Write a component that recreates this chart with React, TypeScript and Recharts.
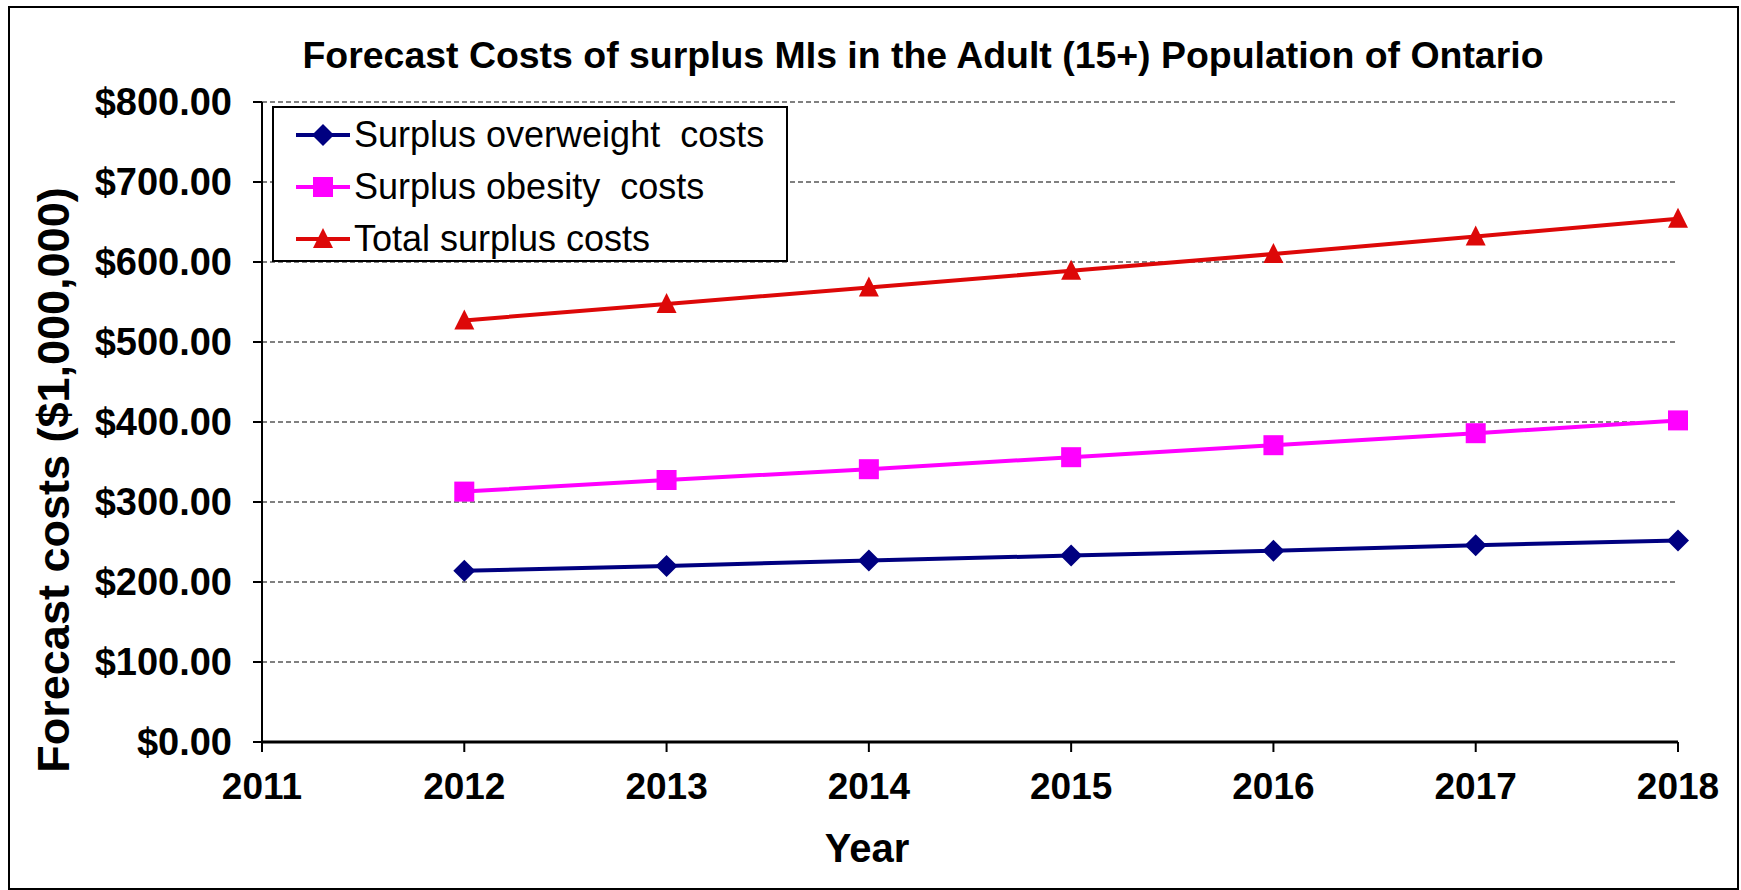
import { LineChart, Line, XAxis, YAxis, CartesianGrid, Customized } from "recharts";

const years = [2012, 2013, 2014, 2015, 2016, 2017, 2018];
const overweightCosts = [214, 220, 227, 233, 239, 246, 252];
const obesityCosts = [313, 327.5, 341, 356, 371, 386, 402];
const totalCosts = [527, 547.5, 568, 589, 610, 632, 654];

const xTicks = [2011, 2012, 2013, 2014, 2015, 2016, 2017, 2018];
const yTicks = [0, 100, 200, 300, 400, 500, 600, 700, 800];

const TITLE = "Forecast Costs of surplus MIs in the Adult (15+) Population of Ontario";
const FONT = '"Liberation Sans", Arial, sans-serif';

const series = [
  { key: "overweight", name: "Surplus overweight  costs", color: "#000080", shape: "diamond" },
  { key: "obesity", name: "Surplus obesity  costs", color: "#FF00FF", shape: "square" },
  { key: "total", name: "Total surplus costs", color: "#DD0808", shape: "triangle" },
];

const data = years.map((year, i) => ({
  year,
  overweight: overweightCosts[i],
  obesity: obesityCosts[i],
  total: totalCosts[i],
}));

function Marker({ cx, cy, shape, color }: { cx: number; cy: number; shape: string; color: string }) {
  if (shape === "diamond") {
    return <polygon points={`${cx},${cy - 11} ${cx + 11},${cy} ${cx},${cy + 11} ${cx - 11},${cy}`} fill={color} />;
  }
  if (shape === "square") {
    return <rect x={cx - 10} y={cy - 10} width={20} height={20} fill={color} />;
  }
  return <polygon points={`${cx},${cy - 11} ${cx + 10},${cy + 9} ${cx - 10},${cy + 9}`} fill={color} />;
}

// legend drawn as a plain box over the plot, like the original
function LegendBox() {
  return (
    <div
      style={{
        position: "absolute",
        left: 272,
        top: 106,
        width: 516,
        height: 156,
        border: "2px solid #000",
        background: "#fff",
        fontFamily: FONT,
        fontSize: 36,
        color: "#000",
        boxSizing: "border-box",
        paddingTop: 1,
      }}
    >
      {series.map((s) => (
        <div key={s.key} style={{ height: 52, display: "flex", alignItems: "center", whiteSpace: "pre" }}>
          <svg width={80} height={52} style={{ flex: "none" }}>
            <line x1={22} y1={26} x2={76} y2={26} stroke={s.color} strokeWidth={4} />
            <Marker cx={49} cy={26} shape={s.shape} color={s.color} />
          </svg>
          <span>{s.name}</span>
        </div>
      ))}
    </div>
  );
}

function Title() {
  return (
    <text
      x={923}
      y={68}
      textAnchor="middle"
      textLength={1241}
      lengthAdjust="spacingAndGlyphs"
      fontFamily={FONT}
      fontWeight="bold"
      fontSize={36}
      fill="#000"
    >
      {TITLE}
    </text>
  );
}

export default function App() {
  return (
    <div style={{ position: "absolute", left: 0, top: 0, width: 1741, height: 890, background: "#fff" }}>
      <div
        style={{
          position: "absolute",
          left: 8,
          top: 6,
          width: 1731,
          height: 884,
          border: "2px solid #000",
          boxSizing: "border-box",
        }}
      />
      <div style={{ position: "absolute", left: 0, top: 0 }}>
        <LineChart width={1741} height={890} data={data} margin={{ top: 102, right: 63, bottom: 0, left: 0 }}>
          <CartesianGrid horizontal vertical={false} stroke="#808080" strokeWidth={2} strokeDasharray="5 3" />
          <XAxis
            dataKey="year"
            type="number"
            domain={[2011, 2018]}
            ticks={xTicks}
            interval={0}
            height={148}
            tickSize={10}
            tickMargin={21}
            axisLine={{ stroke: "#000", strokeWidth: 3 }}
            tickLine={{ stroke: "#000", strokeWidth: 2 }}
            tick={{ fill: "#000", fontSize: 37, fontWeight: "bold", fontFamily: FONT }}
            label={{
              value: "Year",
              content: () => (
                <text x={867} y={862} textAnchor="middle" fontFamily={FONT} fontWeight="bold" fontSize={40} fill="#000">
                  Year
                </text>
              ),
            }}
          />
          <YAxis
            type="number"
            domain={[0, 800]}
            ticks={yTicks}
            interval={0}
            width={262}
            tickSize={9}
            tickMargin={21}
            tickFormatter={(v: number) => `$${v.toFixed(2)}`}
            axisLine={{ stroke: "#000", strokeWidth: 2 }}
            tickLine={{ stroke: "#000", strokeWidth: 2 }}
            tick={{ fill: "#000", fontSize: 38, fontWeight: "bold", fontFamily: FONT }}
            label={{
              value: "Forecast costs ($1,000,000)",
              content: () => (
                <text
                  x={53}
                  y={480}
                  transform="rotate(-90 53 480)"
                  textAnchor="middle"
                  dominantBaseline="central"
                  fontFamily={FONT}
                  fontWeight="bold"
                  fontSize={45}
                  fill="#000"
                >
                  Forecast costs ($1,000,000)
                </text>
              ),
            }}
          />
          {series.map((s) => (
            <Line
              key={s.key}
              dataKey={s.key}
              name={s.name}
              stroke={s.color}
              strokeWidth={4}
              isAnimationActive={false}
              dot={(p: any) => <Marker key={`${s.key}-${p.index}`} cx={p.cx} cy={p.cy} shape={s.shape} color={s.color} />}
              activeDot={false}
            />
          ))}
          <Customized component={Title} />
        </LineChart>
      </div>
      <LegendBox />
    </div>
  );
}
